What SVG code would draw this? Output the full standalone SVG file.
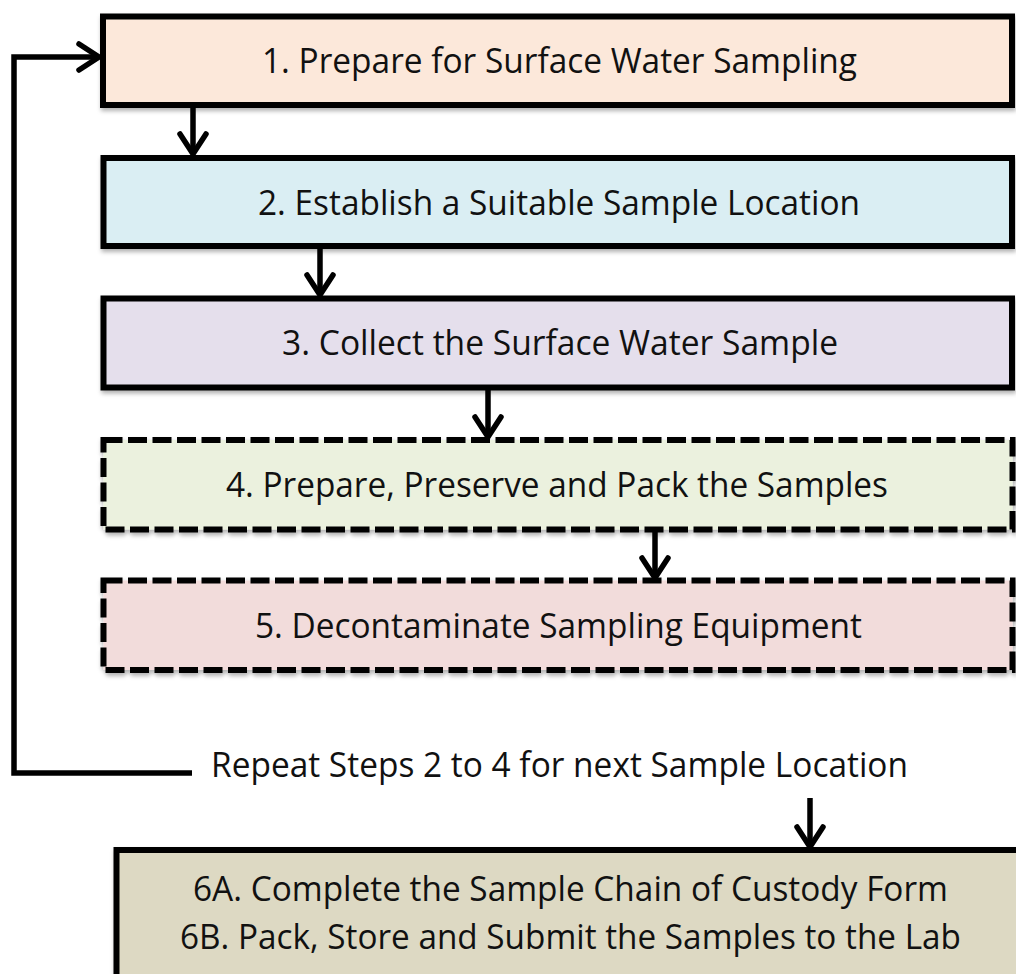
<svg xmlns="http://www.w3.org/2000/svg" width="1016" height="974" viewBox="0 0 1016 974">
<defs>
<filter id="sh" x="-5%" y="-10%" width="110%" height="130%">
<feDropShadow dx="1" dy="3" stdDeviation="2" flood-color="#000" flood-opacity="0.3"/>
</filter>
<marker id="arr" markerUnits="userSpaceOnUse" markerWidth="40" markerHeight="40" viewBox="-30 -20 40 40" refX="0" refY="0" orient="auto">
<path d="M-20,-13 L0,0 L-20,13" fill="none" stroke="#000" stroke-width="5.5" stroke-linecap="round" stroke-linejoin="miter"/>
</marker>
<style>
.box{stroke:#000;stroke-width:6;filter:url(#sh)}
.dash{stroke-dasharray:19 5.5}
.t{font-family:"Open Sans","Noto Sans",sans-serif;font-size:34px;fill:#111}
.c{fill:none;stroke:#000;stroke-width:5.5}
</style>
</defs>
<rect width="1016" height="974" fill="#fff"/>
<g id="n1"><rect class="box" x="103" y="16.5" width="909" height="88.5" fill="#FCE8DA"/><text class="t" x="262" y="73" textLength="595" lengthAdjust="spacingAndGlyphs">1. Prepare for Surface Water Sampling</text></g>
<g id="n2"><rect class="box" x="103.5" y="158" width="908.5" height="88" fill="#DAEEF3"/><text class="t" x="258" y="215" textLength="602" lengthAdjust="spacingAndGlyphs">2. Establish a Suitable Sample Location</text></g>
<g id="n3"><rect class="box" x="103.5" y="298.5" width="908.5" height="89" fill="#E5DFEC"/><text class="t" x="282" y="355" textLength="556" lengthAdjust="spacingAndGlyphs">3. Collect the Surface Water Sample</text></g>
<g id="n4"><rect class="box dash" x="103.5" y="440" width="909" height="89.5" fill="#EBF1DE"/><text class="t" x="226" y="497" textLength="662" lengthAdjust="spacingAndGlyphs">4. Prepare, Preserve and Pack the Samples</text></g>
<g id="n5"><rect class="box dash" x="103.5" y="580.5" width="909" height="89.5" fill="#F2DCDB"/><text class="t" x="255" y="638" textLength="607" lengthAdjust="spacingAndGlyphs">5. Decontaminate Sampling Equipment</text></g>
<g id="repeat"><text class="t" x="211" y="777" textLength="697" lengthAdjust="spacingAndGlyphs">Repeat Steps 2 to 4 for next Sample Location</text></g>
<g id="n6"><rect class="box" x="116.5" y="850" width="920" height="150" fill="#DDD9C3"/><text class="t" x="193" y="901" textLength="755" lengthAdjust="spacingAndGlyphs">6A. Complete the Sample Chain of Custody Form</text><text class="t" x="180" y="949" textLength="781" lengthAdjust="spacingAndGlyphs">6B. Pack, Store and Submit the Samples to the Lab</text></g>
<g id="connectors">
<path class="c" d="M193,105 V154" marker-end="url(#arr)"/>
<path class="c" d="M320,246 V295" marker-end="url(#arr)"/>
<path class="c" d="M488,388 V437" marker-end="url(#arr)"/>
<path class="c" d="M655,530 V578" marker-end="url(#arr)"/>
<path class="c" d="M810,798 V847" marker-end="url(#arr)"/>
<path class="c" d="M192,773 H14 V57 H99" marker-end="url(#arr)"/>
</g>
</svg>
